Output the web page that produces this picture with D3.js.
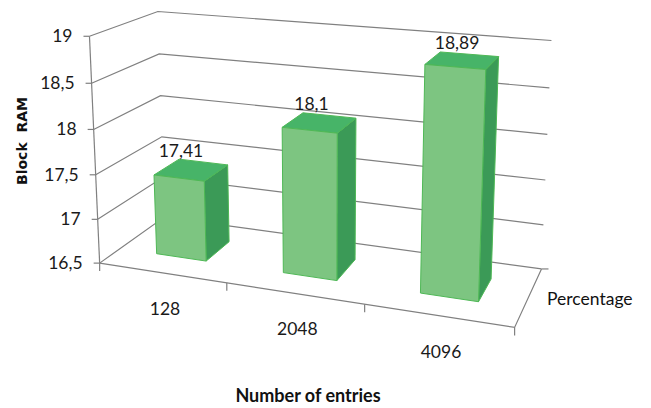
<!DOCTYPE html>
<html><head><meta charset="utf-8">
<script src="https://cdn.jsdelivr.net/npm/d3@7"></script>
<style>html,body{margin:0;padding:0;background:#fff;}svg{display:block;}</style>
</head><body>
<script>
const categories = ["128", "2048", "4096"];
const values = [17.41, 18.1, 18.89];
const valueLabels = ["17,41", "18,1", "18,89"];
const yTicks = [16.5, 17, 17.5, 18, 18.5, 19];
const yTickLabels = ["16,5", "17", "17,5", "18", "18,5", "19"];
const xTitle = "Number of entries";
const yTitle = "Block  RAM";
const zTitle = "Percentage";

const W = 651, H = 408;
const svg = d3.select("body").append("svg").attr("width", W).attr("height", H);

// perspective camera fitted to the plot box corners (u,t,w) -> screen
const calib = [
  [0,0,0, 101,262],[1,0,0, 515,327],[0,0,1, 165,219],[1,0,1, 541,268],
  [0,1,0, 90.5,38],[0,1,1, 158,11],[1,1,1, 552,41],
  [1/3,0,0, 226,283],[2/3,0,0, 365,306],
  [0,0.4,0, 94,173],[0,0.8,0, 91,83],[0,0.6,1, 160,95],[1,0.6,1, 547,134]
];
function solveCamera(pts){
  const A = [], b = [];
  pts.forEach(([u,t,w,x,y]) => {
    A.push([u,t,w,1,0,0,0,0,-x*u,-x*t,-x*w]); b.push(x);
    A.push([0,0,0,0,u,t,w,1,-y*u,-y*t,-y*w]); b.push(y);
  });
  const n = 11;
  const M = Array.from({length:n}, (_,i) => {
    const row = new Array(n+1).fill(0);
    for (let j=0;j<n;j++) for (let k=0;k<A.length;k++) row[j] += A[k][i]*A[k][j];
    for (let k=0;k<A.length;k++) row[n] += A[k][i]*b[k];
    return row;
  });
  for (let c=0;c<n;c++){
    let p=c; for (let r=c+1;r<n;r++) if (Math.abs(M[r][c])>Math.abs(M[p][c])) p=r;
    [M[c],M[p]]=[M[p],M[c]];
    for (let r=0;r<n;r++){ if(r===c) continue; const f=M[r][c]/M[c][c]; for(let k=c;k<=n;k++) M[r][k]-=f*M[c][k]; }
  }
  return M.map((r,i)=>r[n]/r[i]);
}
const h = solveCamera(calib);
function P(u,t,w){
  const d = h[8]*u + h[9]*t + h[10]*w + 1;
  return [(h[0]*u+h[1]*t+h[2]*w+h[3])/d, (h[4]*u+h[5]*t+h[6]*w+h[7])/d];
}

const x = d3.scaleBand().domain(categories).range([0,1]).paddingInner(0.6).paddingOuter(0.3);
const y = d3.scaleLinear().domain([16.5,19]).range([0,1]);
const z = d3.scaleLinear().domain([0,1]).range([0.3,0.7]); // bar depth band

const line = d3.line();
const axisColor = "#808080";
const font = "Lato, 'Open Sans', sans-serif";
const textColor = "#1a1a1a";

// gridlines on left wall + back wall
svg.append("g").selectAll("path").data(yTicks).join("path")
  .attr("d", v => line([P(0,y(v),0), P(0,y(v),1), P(1,y(v),1)]))
  .attr("fill","none").attr("stroke", axisColor).attr("stroke-width",1.2);

// value axis line + ticks
svg.append("path").attr("d", line([P(0,0,0), P(0,1,0)])).attr("stroke",axisColor).attr("stroke-width",1.2).attr("fill","none");
svg.append("g").selectAll("path").data(yTicks).join("path")
  .attr("d", v => { const p = P(0,y(v),0); return line([[p[0]-6,p[1]],p]); })
  .attr("stroke",axisColor).attr("stroke-width",1.2);
svg.append("g").selectAll("text").data(yTicks).join("text")
  .attr("x", v => P(0,y(v),0)[0]-17).attr("y", v => P(0,y(v),0)[1]+6)
  .attr("text-anchor","end").attr("font-family",font).attr("font-size",17.5).attr("fill",textColor)
  .text((v,i)=>yTickLabels[i]);

// floor edges
svg.append("path").attr("d", line([P(0,0,0), P(1,0,0), P(1,0,1)]))
  .attr("fill","none").attr("stroke",axisColor).attr("stroke-width",1.2);
// category ticks
const catBounds = d3.range(categories.length+1).map(i => i/categories.length);
svg.append("g").selectAll("path").data(catBounds).join("path")
  .attr("d", u => { const p = P(u,0,0); return line([p,[p[0],p[1]+8]]); })
  .attr("stroke",axisColor).attr("stroke-width",1.2);
// depth axis ticks
{ const p = P(1,0,1); svg.append("path").attr("d", line([p,[p[0]+7,p[1]]])).attr("stroke",axisColor).attr("stroke-width",1.2); }

// bars
const cFront = "#7dc581", cTop = "#47b468", cSide = "#3b9a57", cEdge = "#4fb856";
const bars = svg.append("g");
categories.forEach((c,i) => {
  const u0 = x(c), u1 = x(c)+x.bandwidth(), w0 = z(0), w1 = z(1), t0 = y(16.5), t1 = y(values[i]);
  const face = (pts, fill) => bars.append("path").attr("d", line(pts)+"Z")
    .attr("fill", fill).attr("stroke", cEdge).attr("stroke-width",1).attr("stroke-linejoin","round");
  face([P(u1,t0,w0),P(u1,t0,w1),P(u1,t1,w1),P(u1,t1,w0)], cSide);
  face([P(u0,t1,w0),P(u1,t1,w0),P(u1,t1,w1),P(u0,t1,w1)], cTop);
  face([P(u0,t0,w0),P(u1,t0,w0),P(u1,t1,w0),P(u0,t1,w0)], cFront);
  const um = x(c)+x.bandwidth()/2;
  bars.append("text").attr("x", P(um,t1,w0)[0]+2).attr("y", P(um,t1,w1)[1]-5)
    .attr("text-anchor","middle").attr("font-family",font).attr("font-size",17.5).attr("fill",textColor)
    .text(valueLabels[i]);
});

// category labels
svg.append("g").selectAll("text").data(categories).join("text")
  .attr("x", c => P(x(c)+x.bandwidth()/2,0,0)[0]+3)
  .attr("y", c => P(x(c)+x.bandwidth()/2,0,0)[1]+42)
  .attr("text-anchor","middle").attr("font-family",font).attr("font-size",17.5).attr("fill",textColor)
  .text(c=>c);

// titles
svg.append("text").attr("x",308).attr("y",402).attr("text-anchor","middle")
  .attr("font-family",font).attr("font-size",18).attr("font-weight","bold").attr("fill","#111").text(xTitle);
svg.append("text").attr("transform","translate(27,141) rotate(-90)").attr("text-anchor","middle")
  .attr("font-family","'DejaVu Sans', sans-serif").attr("font-size",14).attr("font-weight","bold").attr("fill","#111")
  .attr("xml:space","preserve").style("white-space","pre").text(yTitle);
{ const a = P(1,0,0), b = P(1,0,1);
  svg.append("text").attr("x",(a[0]+b[0])/2+19).attr("y",(a[1]+b[1])/2+7)
    .attr("font-family",font).attr("font-size",17.5).attr("fill","#111").text(zTitle); }
</script>
</body></html>
